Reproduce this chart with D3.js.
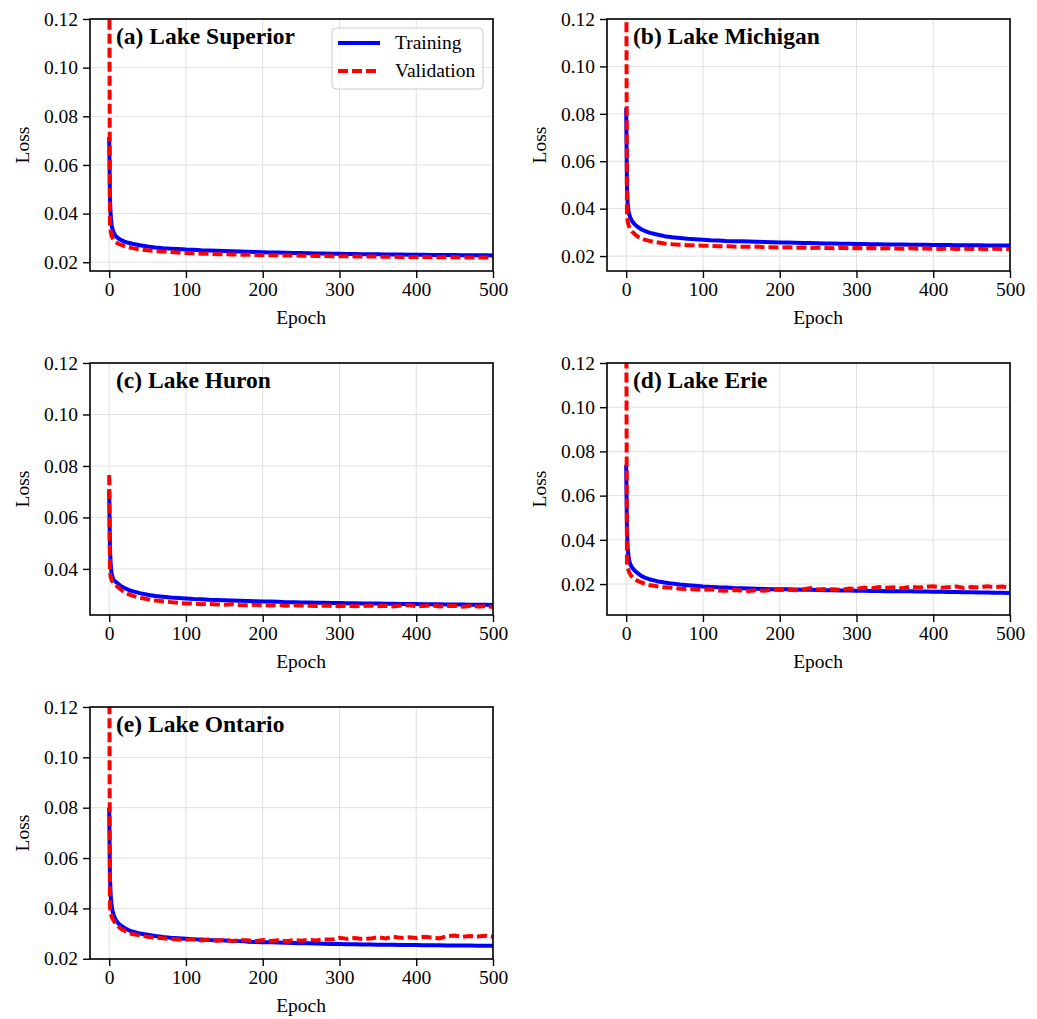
<!DOCTYPE html>
<html>
<head>
<meta charset="utf-8">
<script src="https://cdn.jsdelivr.net/npm/d3@7"></script>
<style>
  body { margin: 0; background: #fff; }
  svg text { font-family: "Liberation Serif", "Times New Roman", serif; fill: #000; }
</style>
</head>
<body>
<svg id="chart" width="1037" height="1019"></svg>
<script>
var epochs = [0,1,2,3,4,5,6,8,10,12,15,20,25,30,40,50,60,70,80,90,100,110,120,130,140,150,160,170,180,190,200,
  210,220,230,240,250,260,270,280,290,300,310,320,330,340,350,360,370,380,390,400,410,420,430,440,450,460,470,480,490,500];

var superiorTrain = [.0715,.046,.039,.0355,.034,.033,.0322,.031,.0303,.0298,.0292,.0285,.028,.0276,.027,.0265,.0261,.0258,.0256,.0254,.0252,
  .0251,.0249,.0248,.0247,.0246,.0245,.0244,.0243,.0242,.0241,.0240,.0240,.0239,.0238,.0238,.0237,.0236,.0236,.0235,.0235,
  .0234,.0234,.0233,.0233,.0233,.0232,.0232,.0232,.0231,.0231,.0231,.0230,.0230,.0230,.0230,.0229,.0229,.0229,.0229,.0228];
var superiorVal = [.16,.036,.0325,.031,.0302,.0297,.0292,.0285,.028,.0276,.0272,.0266,.0262,.0258,.0253,.0249,.0246,.0244,.0242,.0240,.0238,
  .0237,.0235,.0235,.0233,.0233,.0232,.0231,.0231,.0230,.0230,.0229,.0229,.0228,.0228,.0227,.0227,.0226,.0226,.0225,.0225,
  .0225,.0224,.0224,.0224,.0223,.0223,.0223,.0222,.0222,.0222,.0222,.0221,.0221,.0221,.0221,.0220,.0220,.0220,.0220,.0219];

var michiganTrain = [.0825,.05,.042,.039,.0375,.0365,.0357,.0346,.0338,.0331,.0323,.0312,.0305,.0299,.0291,.0284,.0279,.0276,.0273,.0271,.0269,
  .0267,.0266,.0264,.0263,.0262,.0261,.0260,.0259,.0258,.0257,.0257,.0256,.0255,.0255,.0254,.0253,.0253,.0252,.0252,.0251,
  .0251,.0250,.0250,.0249,.0249,.0249,.0248,.0248,.0248,.0247,.0247,.0247,.0246,.0246,.0246,.0246,.0245,.0245,.0245,.0245];
var michiganVal = [.16,.037,.0345,.0333,.0322,.0315,.031,.0302,.0296,.029,.0282,.0274,.0268,.0264,.0258,.0253,.0250,.0248,.0246,.0245,.0244,
  .0243,.0241,.0242,.0240,.0239,.0239,.0240,.0237,.0237,.0236,.0237,.0235,.0236,.0234,.0235,.0234,.0233,.0235,.0233,.0234,
  .0232,.0234,.0232,.0233,.0232,.0231,.0233,.0231,.0232,.0231,.0230,.0232,.0230,.0231,.0230,.0231,.0229,.0231,.0230,.0230];

var huronTrain = [.0705,.048,.0415,.0385,.0372,.0362,.0356,.0351,.0346,.0341,.0334,.0326,.0319,.0314,.0306,.0300,.0295,.0292,.0289,.0287,.0285,
  .0283,.0282,.0280,.0279,.0278,.0277,.0276,.0275,.0274,.0273,.0273,.0272,.0271,.0271,.0270,.0270,.0269,.0269,.0268,.0268,
  .0267,.0267,.0266,.0266,.0266,.0265,.0265,.0264,.0264,.0264,.0263,.0263,.0263,.0262,.0262,.0262,.0261,.0261,.0261,.0260];
var huronVal = [.0765,.0388,.0368,.0358,.0352,.0347,.0343,.0338,.0333,.0328,.0320,.0309,.0302,.0296,.0288,.0282,.0277,.0274,.0271,.0268,.0266,
  .0265,.0263,.0264,.0262,.0261,.0263,.0260,.0259,.0261,.0259,.0258,.0260,.0257,.0259,.0258,.0257,.0256,.0258,.0256,.0255,
  .0257,.0255,.0256,.0258,.0255,.0257,.0254,.0258,.0260,.0255,.0256,.0259,.0254,.0256,.0257,.0253,.0256,.0254,.0255,.0252];

var erieTrain = [.074,.045,.036,.0325,.0305,.0293,.0285,.0273,.0265,.0258,.0249,.0236,.0228,.0222,.0213,.0207,.0202,.0198,.0195,.0192,.0189,
  .0187,.0185,.0184,.0182,.0181,.0180,.0179,.0178,.0177,.0177,.0176,.0175,.0174,.0174,.0173,.0172,.0172,.0171,.0171,.0170,
  .0170,.0169,.0169,.0168,.0168,.0167,.0167,.0166,.0166,.0165,.0165,.0164,.0164,.0163,.0163,.0162,.0162,.0161,.0161,.0160];
var erieVal = [.16,.0295,.0272,.0262,.0252,.0245,.0240,.0232,.0226,.0220,.0214,.0207,.0201,.0196,.0190,.0185,.0183,.0179,.0178,.0176,.0174,
  .0176,.0171,.0170,.0173,.0171,.0169,.0172,.0170,.0174,.0173,.0175,.0172,.0176,.0182,.0175,.0178,.0176,.0174,.0180,.0178,
  .0184,.0181,.0187,.0183,.0185,.0181,.0188,.0184,.0187,.0190,.0183,.0186,.0189,.0182,.0187,.0184,.0190,.0186,.0189,.0182];

var ontarioTrain = [.080,.052,.045,.0415,.0395,.0382,.0372,.0358,.0348,.0340,.0332,.0322,.0314,.0308,.0300,.0295,.0290,.0286,.0283,.0281,.0279,
  .0277,.0276,.0274,.0273,.0272,.0271,.0270,.0268,.0267,.0266,.0266,.0265,.0264,.0263,.0262,.0262,.0261,.0260,.0259,.0259,
  .0258,.0258,.0257,.0257,.0256,.0256,.0256,.0255,.0255,.0255,.0254,.0254,.0254,.0253,.0253,.0253,.0253,.0252,.0252,.0252];
var ontarioVal = [.16,.0405,.0380,.0370,.0362,.0356,.0350,.0342,.0335,.0328,.0320,.0311,.0303,.0298,.0293,.0287,.0284,.0281,.0279,.0276,.0275,
  .0278,.0273,.0276,.0272,.0275,.0271,.0274,.0273,.0270,.0274,.0271,.0273,.0270,.0274,.0272,.0275,.0273,.0277,.0276,.0283,
  .0279,.0282,.0278,.0280,.0286,.0281,.0288,.0283,.0285,.0282,.0287,.0284,.0281,.0290,.0292,.0287,.0290,.0288,.0291,.0287];

var panelTitles = ["(a) Lake Superior", "(b) Lake Michigan", "(c) Lake Huron", "(d) Lake Erie", "(e) Lake Ontario"];
var xTicks = [0, 100, 200, 300, 400, 500];
var yTicksFull = [0.02, 0.04, 0.06, 0.08, 0.10, 0.12];
var yTicksHuron = [0.04, 0.06, 0.08, 0.10, 0.12];
var yMins = [0.0164, 0.0137, 0.0221, 0.006, 0.0199];

var panels = [
  { title: panelTitles[0], train: superiorTrain, val: superiorVal, ymin: yMins[0], yticks: yTicksFull, col: 0, row: 0, legend: true },
  { title: panelTitles[1], train: michiganTrain, val: michiganVal, ymin: yMins[1], yticks: yTicksFull, col: 1, row: 0 },
  { title: panelTitles[2], train: huronTrain, val: huronVal, ymin: yMins[2], yticks: yTicksHuron, col: 0, row: 1 },
  { title: panelTitles[3], train: erieTrain, val: erieVal, ymin: yMins[3], yticks: yTicksFull, col: 1, row: 1 },
  { title: panelTitles[4], train: ontarioTrain, val: ontarioVal, ymin: yMins[4], yticks: yTicksFull, col: 0, row: 2 }
];

var svg = d3.select("#chart");
var colLeft = [90, 607], plotW = 403;
var rowTop = [19, 363, 707], plotH = 252;
var fontSize = 19.5;

panels.forEach(function(p, k) {
  var g = svg.append("g")
    .attr("transform", "translate(" + colLeft[p.col] + "," + rowTop[p.row] + ")");

  var x = d3.scaleLinear().domain([-25, 500]).range([0, plotW]);
  var y = d3.scaleLinear().domain([p.ymin, 0.12]).range([plotH, 0]);

  // grid
  g.append("g").selectAll("line").data(xTicks).enter().append("line")
    .attr("x1", function(d) { return x(d); }).attr("x2", function(d) { return x(d); })
    .attr("y1", 0).attr("y2", plotH)
    .attr("stroke", "#e0e0e0").attr("stroke-width", 1);
  g.append("g").selectAll("line").data(p.yticks).enter().append("line")
    .attr("y1", function(d) { return y(d); }).attr("y2", function(d) { return y(d); })
    .attr("x1", 0).attr("x2", plotW)
    .attr("stroke", "#e0e0e0").attr("stroke-width", 1);

  var clipId = "clip" + k;
  g.append("clipPath").attr("id", clipId)
    .append("rect").attr("width", plotW).attr("height", plotH);

  var line = d3.line()
    .x(function(d, i) { return x(epochs[i]); })
    .y(function(d) { return y(d); });

  var lines = g.append("g").attr("clip-path", "url(#" + clipId + ")");
  lines.append("path").datum(p.train)
    .attr("d", line)
    .attr("fill", "none").attr("stroke", "#0000ff").attr("stroke-width", 4)
    .attr("stroke-linejoin", "round");
  lines.append("path").datum(p.val)
    .attr("d", line)
    .attr("fill", "none").attr("stroke", "#ff0000").attr("stroke-width", 4)
    .attr("stroke-dasharray", "10,4");

  // axes
  var xAxis = g.append("g")
    .attr("transform", "translate(0," + plotH + ")")
    .call(d3.axisBottom(x).tickValues(xTicks).tickSize(7).tickPadding(4).tickFormat(d3.format("d")));
  var yAxis = g.append("g")
    .call(d3.axisLeft(y).tickValues(p.yticks).tickSize(7).tickPadding(5).tickFormat(d3.format(".2f")));
  [xAxis, yAxis].forEach(function(a) {
    a.select(".domain").remove();
    a.selectAll("line").attr("stroke", "#000").attr("stroke-width", 1.4);
    a.selectAll("text").style("font-size", fontSize + "px").attr("fill", "#000")
      .style("font-family", "'Liberation Serif', 'Times New Roman', serif");
  });

  g.append("rect")
    .attr("width", plotW).attr("height", plotH)
    .attr("fill", "none").attr("stroke", "#000").attr("stroke-width", 1.6);

  // labels
  g.append("text")
    .attr("x", x(250)).attr("y", plotH + 53)
    .attr("text-anchor", "middle").style("font-size", fontSize + "px")
    .text("Epoch");
  g.append("text")
    .attr("transform", "translate(-61," + (plotH / 2) + ") rotate(-90)")
    .attr("text-anchor", "middle").style("font-size", fontSize + "px")
    .text("Loss");

  g.append("text")
    .attr("x", 26).attr("y", 25)
    .style("font-size", "23.5px").style("font-weight", "bold")
    .text(p.title);

  if (p.legend) {
    var lg = g.append("g").attr("transform", "translate(242,9)");
    lg.append("rect")
      .attr("width", 151).attr("height", 61).attr("rx", 4)
      .attr("fill", "#fff").attr("fill-opacity", 0.8)
      .attr("stroke", "#cccccc").attr("stroke-width", 1);
    lg.append("line").attr("x1", 6).attr("x2", 48).attr("y1", 15).attr("y2", 15)
      .attr("stroke", "#0000ff").attr("stroke-width", 4);
    lg.append("line").attr("x1", 6).attr("x2", 48).attr("y1", 43).attr("y2", 43)
      .attr("stroke", "#ff0000").attr("stroke-width", 4).attr("stroke-dasharray", "10,4");
    lg.append("text").attr("x", 63).attr("y", 21).style("font-size", fontSize + "px").text("Training");
    lg.append("text").attr("x", 63).attr("y", 49).style("font-size", fontSize + "px").text("Validation");
  }
});
</script>
</body>
</html>
